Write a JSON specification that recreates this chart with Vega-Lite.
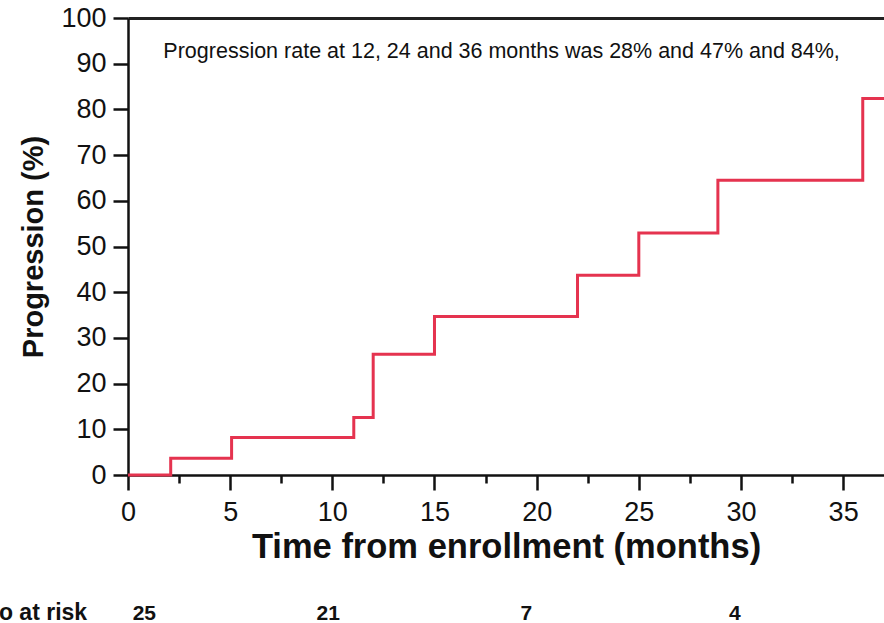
{
  "$schema": "https://vega.github.io/schema/vega-lite/v6.json",
  "autosize": "none",
  "width": 756,
  "height": 457,
  "padding": {"left": 128, "top": 18, "right": 0, "bottom": 148},
  "background": "white",
  "config": {
    "view": {"stroke": null},
    "font": "Liberation Sans",
    "axis": {"grid": false, "domainColor": "#111", "tickColor": "#111", "labelColor": "#111", "titleColor": "#111", "labelFont": "Liberation Sans", "titleFont": "Liberation Sans"}
  },
  "datasets": {
    "curve": [
      {"month": 0, "progression": 0},
      {"month": 2.09, "progression": 3.65},
      {"month": 5.07, "progression": 8.2},
      {"month": 11.05, "progression": 12.6},
      {"month": 12.0, "progression": 26.4},
      {"month": 15.0, "progression": 34.7},
      {"month": 22.0, "progression": 43.7},
      {"month": 25.0, "progression": 52.95},
      {"month": 28.87, "progression": 64.5},
      {"month": 35.96, "progression": 82.4},
      {"month": 37, "progression": 82.4}
    ],
    "risk": [
      {"month": 0.8, "n": "25"},
      {"month": 9.8, "n": "21"},
      {"month": 19.5, "n": "7"},
      {"month": 29.7, "n": "4"}
    ],
    "note": [
      {"month": 1.73, "y": 91.3, "text": "Progression rate at 12, 24 and 36 months was 28% and 47% and 84%,"}
    ],
    "risklabel": [
      {"month": -2, "label": "No at risk"}
    ]
  },
  "layer": [
    {
      "data": {"name": "curve"},
      "mark": {"type": "line", "interpolate": "step-after", "color": "#e5334f", "strokeWidth": 3},
      "encoding": {
        "x": {
          "field": "month", "type": "quantitative",
          "scale": {"domain": [0, 37], "nice": false, "zero": false},
          "axis": {
            "orient": "bottom",
            "values": [0, 2.5, 5, 7.5, 10, 12.5, 15, 17.5, 20, 22.5, 25, 27.5, 30, 32.5, 35],
            "labelExpr": "datum.value % 5 === 0 ? datum.label : ''",
            "tickSize": {"condition": {"test": "datum.value % 5 === 0", "value": 15}, "value": 8},
            "tickWidth": 2.5,
            "domainWidth": 2.5,
            "labelFontSize": 27,
            "labelPadding": 9,
            "labelFlush": false,
            "labelOverlap": false,
            "title": "Time from enrollment (months)",
            "titleFontSize": 34.5,
            "titleFontWeight": "bold",
            "titlePadding": 5
          }
        },
        "y": {
          "field": "progression", "type": "quantitative",
          "scale": {"domain": [0, 100], "nice": false},
          "axis": {
            "values": [0, 10, 20, 30, 40, 50, 60, 70, 80, 90, 100],
            "tickSize": 15,
            "tickWidth": 2.5,
            "domainWidth": 2.5,
            "labelFontSize": 27,
            "labelPadding": 7,
            "labelFlush": false,
            "labelOverlap": false,
            "title": "Progression (%)",
            "titleFontSize": 29,
            "titleFontWeight": "bold",
            "titlePadding": 12
          }
        }
      }
    },
    {
      "data": {"name": "note"},
      "mark": {"type": "text", "align": "left", "baseline": "alphabetic", "fontSize": 21.5, "font": "Liberation Sans", "color": "#111"},
      "encoding": {
        "x": {"field": "month", "type": "quantitative", "axis": {"orient": "top", "labels": false, "ticks": false, "title": null, "domainWidth": 3, "domainColor": "#222"}},
        "y": {"field": "y", "type": "quantitative"},
        "text": {"field": "text"}
      }
    },
    {
      "data": {"name": "risk"},
      "mark": {"type": "text", "align": "center", "baseline": "alphabetic", "fontSize": 21, "fontWeight": "bold", "font": "Liberation Sans", "color": "#111"},
      "encoding": {
        "x": {"field": "month", "type": "quantitative", "axis": null},
        "y": {"datum": -31.7, "type": "quantitative"},
        "text": {"field": "n"}
      }
    },
    {
      "data": {"name": "risklabel"},
      "mark": {"type": "text", "align": "right", "baseline": "alphabetic", "fontSize": 23, "fontWeight": "bold", "font": "Liberation Sans", "color": "#111"},
      "encoding": {
        "x": {"field": "month", "type": "quantitative", "axis": null},
        "y": {"datum": -31.7, "type": "quantitative"},
        "text": {"field": "label"}
      }
    }
  ],
  "resolve": {"axis": {"x": "independent"}}
}
